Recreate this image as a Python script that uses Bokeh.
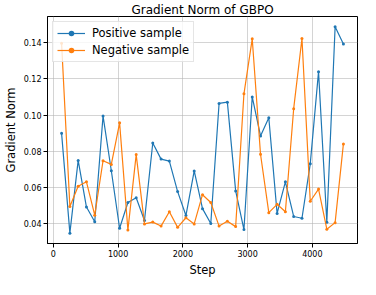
from bokeh.plotting import figure
from bokeh.models import FixedTicker, NumeralTickFormatter, Range1d, Legend
from bokeh.embed import file_html
from bokeh.resources import INLINE

steps = [128 * k for k in range(1, 36)]
positive = [0.0899, 0.0349, 0.0750, 0.0493, 0.0412, 0.0995, 0.0693, 0.0376, 0.0518,
            0.0544, 0.0419, 0.0846, 0.0757, 0.0746, 0.0578, 0.0446, 0.0692, 0.0484,
            0.0402, 0.1064, 0.1071, 0.0582, 0.0369, 0.1100, 0.0885, 0.0985, 0.0458,
            0.0632, 0.0441, 0.0431, 0.0731, 0.1239, 0.0409, 0.1486, 0.1391]
negative = [0.1396, 0.0496, 0.0608, 0.0632, 0.0448, 0.0748, 0.0728, 0.0957, 0.0366,
            0.0782, 0.0400, 0.0410, 0.0388, 0.0467, 0.0381, 0.0434, 0.0400, 0.0561,
            0.0518, 0.0388, 0.0415, 0.0385, 0.1117, 0.1420, 0.0784, 0.0462, 0.0508,
            0.0467, 0.1035, 0.1422, 0.0525, 0.0592, 0.0371, 0.0407, 0.0841]
x_ticks = [0, 1000, 2000, 3000, 4000]
y_ticks = [0.04, 0.06, 0.08, 0.10, 0.12, 0.14]

FONT = "DejaVu Sans"
BLUE = "#1f77b4"
ORANGE = "#ff7f0e"

p = figure(width=360, height=279, output_backend="svg", toolbar_location=None,
           title="Gradient Norm of GBPO",
           x_range=Range1d(-89.6, 4697.6), y_range=Range1d(0.0292, 0.1543))

p.min_border_left = 4
p.min_border_right = 3
p.min_border_top = 0
p.min_border_bottom = 1

p.title.align = "center"
p.title.text_font = FONT
p.title.text_font_size = "12px"
p.title.text_font_style = "normal"
p.title.text_color = "black"
p.title.standoff = 0
p.title.offset = 0

p.outline_line_color = "black"
p.outline_line_width = 1
p.outline_line_alpha = 1

for ax in (p.xaxis, p.yaxis):
    ax.axis_line_color = "black"
    ax.major_tick_line_color = "black"
    ax.major_tick_out = 4
    ax.major_tick_in = 0
    ax.minor_tick_line_color = None
    ax.major_label_text_font = FONT
    ax.major_label_text_font_size = "8px"
    ax.major_label_text_color = "black"
    ax.axis_label_text_font = FONT
    ax.axis_label_text_font_size = "11.5px"
    ax.axis_label_text_font_style = "normal"
    ax.axis_label_text_color = "black"
    ax.major_label_standoff = 2
    ax.axis_label_standoff = 3

p.xaxis.ticker = FixedTicker(ticks=x_ticks)
p.yaxis.ticker = FixedTicker(ticks=y_ticks)
p.xaxis.formatter = NumeralTickFormatter(format="0")
p.yaxis.formatter = NumeralTickFormatter(format="0.00")
p.xaxis.axis_label = "Step"
p.yaxis.axis_label = "Gradient Norm"

p.xgrid.ticker = FixedTicker(ticks=x_ticks)
p.ygrid.ticker = FixedTicker(ticks=y_ticks)
p.grid.grid_line_color = "#b0b0b0"
p.grid.grid_line_alpha = 0.55
p.grid.grid_line_width = 1

l1 = p.line(steps, positive, color=BLUE, line_width=1.2)
s1 = p.scatter(steps, positive, color=BLUE, size=3, line_width=0)
l2 = p.line(steps, negative, color=ORANGE, line_width=1.2)
s2 = p.scatter(steps, negative, color=ORANGE, size=3, line_width=0)

legend = Legend(items=[("Positive sample", [l1, s1]), ("Negative sample", [l2, s2])],
                location="top_left")
legend.label_text_font = FONT
legend.label_text_font_size = "11.5px"
legend.label_text_color = "black"
legend.label_height = 14
legend.glyph_height = 14
legend.glyph_width = 28
legend.spacing = 3
legend.padding = 4
legend.margin = 5
legend.label_standoff = 7
legend.border_line_color = "#cccccc"
legend.border_line_width = 1
legend.background_fill_alpha = 0.8
p.add_layout(legend)

open("out.html", "w").write(file_html(p, INLINE))
